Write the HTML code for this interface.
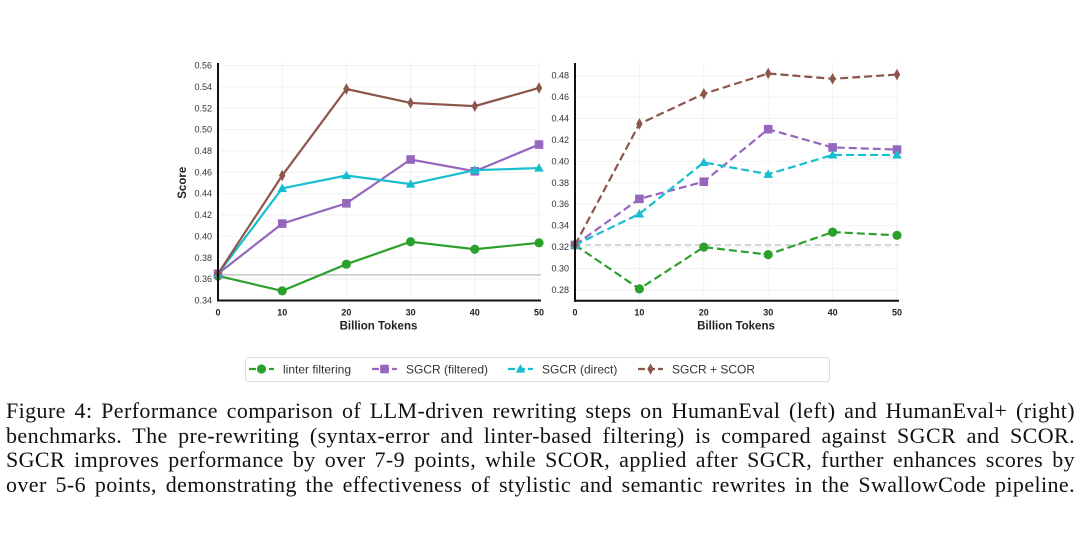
<!DOCTYPE html>
<html><head><meta charset="utf-8"><style>
body{margin:0;background:#fff;width:1080px;height:547px;overflow:hidden;position:relative}
#cap{position:absolute;left:6px;top:399px;width:1069px;font-family:"Liberation Serif",serif;font-size:22px;letter-spacing:0.4px;line-height:24.6px;color:#111}
#cap span{display:block;white-space:nowrap;text-align:justify;text-align-last:justify}
</style></head><body>
<svg id="chart" width="1080" height="395" style="position:absolute;left:0;top:0" font-family="Liberation Sans, sans-serif"></svg>
<div id="cap"><span>Figure 4: Performance comparison of LLM-driven rewriting steps on HumanEval (left) and HumanEval+ (right)</span><span>benchmarks. The pre-rewriting (syntax-error and linter-based filtering) is compared against SGCR and SCOR.</span><span>SGCR improves performance by over 7-9 points, while SCOR, applied after SGCR, further enhances scores by</span><span>over 5-6 points, demonstrating the effectiveness of stylistic and semantic rewrites in the SwallowCode pipeline.</span></div>
<script>
const xs=[0,10,20,30,40,50];
const seriesNames=["linter filtering","SGCR (filtered)","SGCR (direct)","SGCR + SCOR"];
const leftGreen=[0.363,0.349,0.374,0.395,0.388,0.394];
const leftPurple=[0.365,0.412,0.431,0.472,0.461,0.486];
const leftCyan=[0.365,0.445,0.457,0.449,0.462,0.464];
const leftBrown=[0.365,0.457,0.538,0.525,0.522,0.539];
const leftBaseline=0.364;
const leftTicks=[0.34,0.36,0.38,0.40,0.42,0.44,0.46,0.48,0.50,0.52,0.54,0.56];
const rightGreen=[0.322,0.281,0.320,0.313,0.334,0.331];
const rightPurple=[0.322,0.365,0.381,0.430,0.413,0.411];
const rightCyan=[0.322,0.351,0.399,0.388,0.406,0.406];
const rightBrown=[0.322,0.435,0.463,0.482,0.477,0.481];
const rightBaseline=0.322;
const rightTicks=[0.28,0.30,0.32,0.34,0.36,0.38,0.40,0.42,0.44,0.46,0.48];
const colors=["#2ca02c","#9467bd","#17becf","#8c564b"];
const markers=["circle","square","triangle","diamond"];
const svg=document.getElementById('chart');
const NS="http://www.w3.org/2000/svg";
function mk(t,a,p){const e=document.createElementNS(NS,t);for(const k in a)e.setAttribute(k,a[k]);(p||svg).appendChild(e);return e;}
function marker(type,x,y,c,g){
 if(type==="circle")return mk('circle',{cx:x,cy:y,r:4.6,fill:c},g);
 if(type==="square")return mk('rect',{x:x-4.3,y:y-4.3,width:8.6,height:8.6,fill:c},g);
 if(type==="triangle")return mk('path',{d:`M${x},${y-4.8}L${x+4.8},${y+3.6}L${x-4.8},${y+3.6}Z`,fill:c},g);
 return mk('path',{d:`M${x},${y-5.8}L${x+3.2},${y}L${x},${y+5.8}L${x-3.2},${y}Z`,fill:c},g);
}
function panel(name,x0,x1,yTop,yBot,v0,v1,ticks,series,base,dashed,ylabel){
 const g=mk('g',{});
 
 
 const sx=v=>x0+(v-xs[0])/(xs[5]-xs[0])*(x1-x0);
 const sy=v=>yBot-(v-v0)/(v1-v0)*(yBot-yTop);
 ticks.forEach(t=>{const y=sy(t);
  mk('line',{x1:x0,x2:x1+2,y1:y,y2:y,stroke:'#f2f2f2','stroke-width':1},g);
  const tx=mk('text',{x:x0-6,y:y+3,'text-anchor':'end','font-size':9,fill:'#333'},g);tx.textContent=t.toFixed(2);});
 xs.forEach(v=>{const x=sx(v);
  mk('line',{x1:x,x2:x,y1:yTop-2,y2:yBot,stroke:'#f2f2f2','stroke-width':1},g);
  const tx=mk('text',{x:x,y:yBot+15,'text-anchor':'middle','font-size':9,'font-weight':'bold',fill:'#222'},g);tx.textContent=v;});
 const by=sy(base);
 const bl=mk('line',{x1:x0,x2:x1+2,y1:by,y2:by,stroke:'#bbb','stroke-width':1.3,'stroke-dasharray':dashed?'6,4':'none'},g);
 
 series.forEach((s,i)=>{
  const pl=mk('polyline',{points:s.map((v,j)=>sx(xs[j])+','+sy(v)).join(' '),fill:'none',stroke:colors[i],'stroke-width':2.2,'stroke-dasharray':dashed?'8,4':'none'},g);
  
  s.forEach((v,j)=>{const m=marker(markers[i],sx(xs[j]),sy(v),colors[i],g);
   });
 });
 mk('line',{x1:x0,x2:x0,y1:yTop-2,y2:yBot+1,stroke:'#111','stroke-width':2},g);
 mk('line',{x1:x0-1,x2:x1+2,y1:yBot,y2:yBot,stroke:'#111','stroke-width':2},g);
 const xl=mk('text',{x:(x0+x1)/2,y:yBot+29,'text-anchor':'middle','font-size':11.5,'font-weight':'bold',fill:'#222'},g);xl.textContent='Billion Tokens';
 
 if(ylabel){const yl=mk('text',{x:0,y:0,transform:`translate(186,${(yTop+yBot)/2}) rotate(-90)`,'text-anchor':'middle','font-size':11.5,'font-weight':'bold',fill:'#222'},g);yl.textContent='Score';
  }
}
panel('left-panel',218,539,65,300.5,0.34,0.5605,leftTicks,[leftGreen,leftPurple,leftCyan,leftBrown],leftBaseline,false,true);
panel('right-panel',575,897,65,300.7,0.27,0.4899,rightTicks,[rightGreen,rightPurple,rightCyan,rightBrown],rightBaseline,true,false);
const lg=mk('g',{});


mk('rect',{x:245.5,y:357.5,width:584,height:24,rx:3,fill:'#fff',stroke:'#ddd'},lg);
const lx=[249,372,508,638];
seriesNames.forEach((n,i)=>{
 const e=mk('g',{},lg);
 
 
 mk('line',{x1:lx[i],x2:lx[i]+25,y1:369,y2:369,stroke:colors[i],'stroke-width':2.2,'stroke-dasharray':'7,3'},e);
 marker(markers[i],lx[i]+12.5,369,colors[i],e);
 const t=mk('text',{x:lx[i]+34,y:373.5,'font-size':12,fill:'#333'},e);t.textContent=n;
});
</script>
</body></html>
